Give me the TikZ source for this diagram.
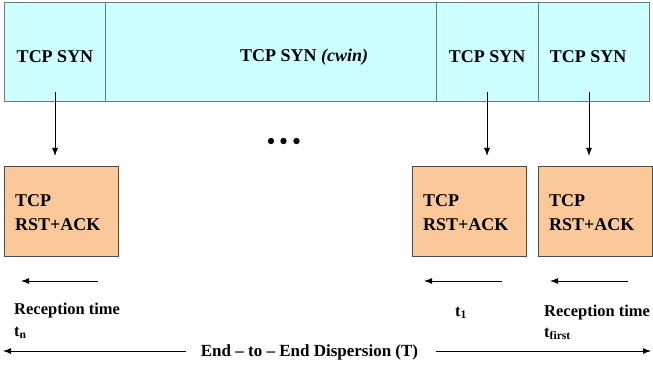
\documentclass[tikz,border=0pt]{standalone}
\usepackage{fontspec}
\setmainfont{Liberation Serif}[
  BoldFont={Liberation Serif Bold},
  ItalicFont={Liberation Serif Italic},
  BoldItalicFont={Liberation Serif Bold Italic}]
\usetikzlibrary{arrows.meta}
\definecolor{synfill}{RGB}{204,255,255}
\definecolor{ackfill}{RGB}{250,200,153}
\definecolor{cellline}{RGB}{105,120,120}
\tikzset{
  x=1pt, y=-1pt,
  cell/.style={draw=cellline, line width=1pt, fill=synfill, anchor=north west, inner sep=0pt},
  ackbox/.style={draw=black!70, line width=0.6pt, fill=ackfill, anchor=north west,
    minimum width=114pt, minimum height=90pt, inner sep=0pt},
  lbl/.style={font=\bfseries\fontsize{18}{22}\selectfont, inner sep=0pt},
  small/.style={font=\bfseries\fontsize{16.5}{20}\selectfont, inner sep=0pt, anchor=base west},
  arr/.style={line width=1pt, -{Latex[length=8pt,width=6pt]}},
}
\begin{document}
\begin{tikzpicture}
\useasboundingbox (0,0) rectangle (653,366);
% window of SYN segments
\node[cell, minimum width=101pt, minimum height=99pt] (c1) at (4,2) {};
\node[cell, minimum width=331pt, minimum height=99pt] (c2) at (105,2) {};
\node[cell, minimum width=102pt, minimum height=99pt] (c3) at (436,2) {};
\node[cell, minimum width=111pt, minimum height=99pt] (c4) at (538,2) {};
\node[lbl] (s1) at (55,57) {TCP SYN};
\node[lbl, anchor=west] (s2) at (240,57) {TCP SYN \textit{(cwin)}};
\node[lbl] (s3) at (487,57) {TCP SYN};
\node[lbl] (s4) at (588,57) {TCP SYN};
% replies
\node[ackbox] (a1) at (4,166) {};
\node[ackbox] (a2) at (412,166) {};
\node[ackbox] (a3) at (538,166) {};
\foreach \b in {a1,a2,a3}{
  \node[lbl, anchor=north west, align=left, font=\bfseries\fontsize{18}{24}\selectfont]
    at ([xshift=11pt,yshift=-28pt]\b.north west) {TCP\\RST+ACK};
}
% SYN to reply arrows
\coordinate (p1) at (55,92);  \coordinate (q1) at (55,156);
\coordinate (p2) at (487,92); \coordinate (q2) at (487,156);
\coordinate (p3) at (589,92); \coordinate (q3) at (589,156);
\draw[arr] (p1) -- (q1);
\draw[arr] (p2) -- (q2);
\draw[arr] (p3) -- (q3);
% ellipsis
\foreach \x in {271,283.5,296.5}
  \fill (\x,141) circle (3.2pt);
% reception direction arrows
\coordinate (r1) at (98,281);  \coordinate (l1) at (21,281);
\coordinate (r2) at (502,281); \coordinate (l2) at (424,281);
\coordinate (r3) at (628,281); \coordinate (l3) at (550,281);
\draw[arr] (r1) -- (l1);
\draw[arr] (r2) -- (l2);
\draw[arr] (r3) -- (l3);
% reception times
\node[small] (rt1) at (14,314) {Reception time};
\node[small] (tn) at (14,336) {t\textsubscript{n}};
\node[small] (t1) at (455,316) {t\textsubscript{1}};
\node[small] (rt2) at (544,316) {Reception time};
\node[small] (tf) at (544,337) {t\textsubscript{first}};
% overall dispersion
\node[font=\bfseries\fontsize{17}{20}\selectfont, inner sep=0pt] (disp) at (309.5,352) {End -- to -- End Dispersion (T)};
\coordinate (dl) at (3,351);
\coordinate (dr) at (651,351);
\draw[arr] ([xshift=-15pt]disp.west |- dl) -- (dl);
\draw[arr] ([xshift=18pt]disp.east |- dr) -- (dr);
\end{tikzpicture}
\end{document}
